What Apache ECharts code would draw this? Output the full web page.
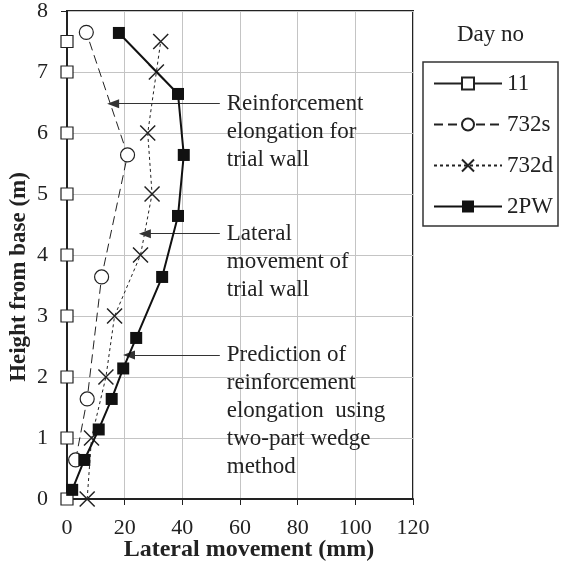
<!DOCTYPE html>
<html>
<head>
<meta charset="utf-8">
<script src="https://cdn.jsdelivr.net/npm/echarts@6/dist/echarts.min.js"></script>
<style>
html,body{margin:0;padding:0;background:#fff;}
#chart{width:561px;height:563px;}
</style>
</head>
<body>
<div id="chart"></div>
<script>
// ---- data ----
const xTicks = [0, 20, 40, 60, 80, 100, 120];
const yTicks = [0, 1, 2, 3, 4, 5, 6, 7, 8];

const day11X = [0, 0, 0, 0, 0, 0, 0, 0, 0];
const day11Y = [0, 1, 2, 3, 4, 5, 6, 7, 7.5];

const d732sX = [3, 7, 12, 21, 6.7];
const d732sY = [0.64, 1.64, 3.64, 5.64, 7.65];

const d732dX = [7, 8.5, 13.5, 16.5, 25.5, 29.5, 28, 31, 32.5];
const d732dY = [0, 1, 2, 3, 4, 5, 6, 7, 7.5];

const pw2X = [1.8, 6, 11, 15.5, 19.5, 24, 33, 38.5, 40.5, 38.5, 18];
const pw2Y = [0.15, 0.64, 1.14, 1.64, 2.14, 2.64, 3.64, 4.64, 5.64, 6.64, 7.64];

const seriesNames = ['11', '732s', '732d', '2PW'];

// annotations (arrow from text to curve)
const arrowStartX = [53, 53, 53];
const arrowTipX = [16, 27, 21.5];
const arrowY = [6.48, 4.35, 2.36];
const annTextX = 55.4;
const annTexts = [
  ['Reinforcement', 'elongation for', 'trial wall'],
  ['Lateral', 'movement of', 'trial wall'],
  ['Prediction of', 'reinforcement', 'elongation  using', 'two-part wedge', 'method']
];

const FONT = '"Liberation Serif", "Times New Roman", serif';
const zip = (xs, ys) => xs.map((x, i) => [x, ys[i]]);

const chart = echarts.init(document.getElementById('chart'), null, {renderer: 'canvas'});

const arrowLines = arrowY.map((y, i) => [
  {coord: [arrowStartX[i], y], symbol: 'none'},
  {coord: [arrowTipX[i], y], symbol: 'triangle', symbolSize: [9, 12]}
]);

const option = {
  animation: false,
  backgroundColor: '#fff',
  title: {
    text: 'Day no', left: 457, top: 23, padding: 0,
    textStyle: {fontFamily: FONT, fontSize: 23, fontWeight: 'normal', color: '#222'}
  },
  legend: {
    orient: 'vertical', left: 423, top: 62,
    padding: [10, 5, 8, 10],
    borderColor: '#333', borderWidth: 1.5,
    itemWidth: 68, itemHeight: 15, itemGap: 18,
    data: seriesNames,
    textStyle: {fontFamily: FONT, fontSize: 23, color: '#222'}
  },
  grid: {
    left: 67, top: 11, right: 148, bottom: 64,
    show: true, borderColor: '#222', borderWidth: 2, backgroundColor: 'transparent'
  },
  xAxis: {
    type: 'value', min: xTicks[0], max: xTicks[xTicks.length - 1], interval: 20,
    axisLine: {show: true, lineStyle: {color: '#222', width: 2}},
    axisTick: {show: true, inside: false, length: 6, lineStyle: {color: '#222'}},
    splitLine: {show: true, lineStyle: {color: '#c4c4c4', width: 1}},
    axisLabel: {fontFamily: FONT, fontSize: 22, color: '#222', margin: 18}
  },
  yAxis: {
    type: 'value', min: yTicks[0], max: yTicks[yTicks.length - 1], interval: 1,
    axisLine: {show: true, lineStyle: {color: '#222', width: 2}},
    axisTick: {show: true, inside: false, length: 6, lineStyle: {color: '#222'}},
    splitLine: {show: true, lineStyle: {color: '#c4c4c4', width: 1}},
    axisLabel: {fontFamily: FONT, fontSize: 22, color: '#222', margin: 19}
  },
  series: [
    {
      name: '11', type: 'line', data: zip(day11X, day11Y),
      symbol: 'rect', symbolSize: 12, clip: false,
      itemStyle: {color: '#fff', borderColor: '#222', borderWidth: 1.2},
      lineStyle: {color: '#222', width: 1.5},
      z: 3
    },
    {
      name: '732s', type: 'line', data: zip(d732sX, d732sY),
      symbol: 'circle', symbolSize: 14,
      itemStyle: {color: '#fff', borderColor: '#222', borderWidth: 1.2},
      lineStyle: {color: '#222', width: 1, type: [9, 5]},
      z: 4
    },
    {
      name: '732d', type: 'line', data: zip(d732dX, d732dY),
      symbol: 'path://M0,0L10,10M10,0L0,10', symbolSize: 15,
      itemStyle: {color: 'none', borderColor: '#222', borderWidth: 1.5},
      lineStyle: {color: '#222', width: 1, type: [3, 3]},
      z: 4
    },
    {
      name: '2PW', type: 'line', data: zip(pw2X, pw2Y),
      symbol: 'rect', symbolSize: 12,
      itemStyle: {color: '#111', borderColor: '#111', borderWidth: 0},
      lineStyle: {color: '#111', width: 2},
      z: 5,
      markLine: {
        silent: true, animation: false,
        lineStyle: {color: '#333', width: 1, type: 'solid'},
        label: {show: false},
        emphasis: {disabled: true},
        data: arrowLines
      }
    }
  ]
};
chart.setOption(option);

// annotation texts positioned through the axes
const graphics = annTexts.map((lines, i) => {
  const p = chart.convertToPixel({gridIndex: 0}, [annTextX, arrowY[i]]);
  return {
    type: 'text', left: p[0], top: p[1] - 14, z: 10,
    style: {text: lines.join('\n'), font: '23px ' + FONT, fill: '#222', lineHeight: 28}
  };
});
graphics.push({
  type: 'text', x: 19, y: 277, rotation: Math.PI / 2, z: 10,
  style: {text: 'Height from base (m)', font: 'bold 23px ' + FONT, fill: '#222', align: 'center', verticalAlign: 'middle'}
});
graphics.push({
  type: 'text', x: 249, y: 550, z: 10,
  style: {text: 'Lateral movement (mm)', font: 'bold 24px ' + FONT, fill: '#222', align: 'center', verticalAlign: 'middle'}
});
chart.setOption({graphic: graphics});
</script>
</body>
</html>
